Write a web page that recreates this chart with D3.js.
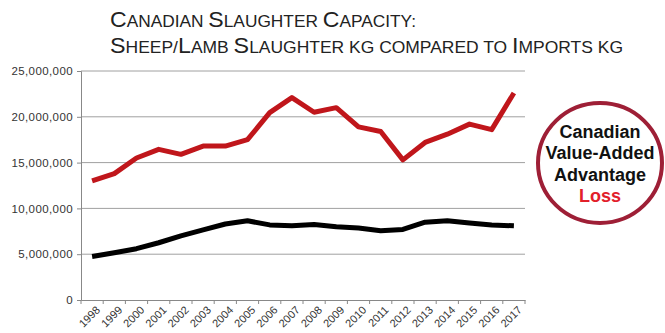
<!DOCTYPE html>
<html lang="en">
<head>
<meta charset="UTF-8">
<title>Canadian Slaughter Capacity</title>
<script src="https://d3js.org/d3.v7.min.js"></script>
<style>
  body { margin: 0; background: #fff; }
  svg { display: block; font-family: Arial, "Liberation Sans", sans-serif; }
  .title { fill: #222; }
  .axis text { font-size: 11.5px; fill: #333; }
  .axis .lab { font-size: 11px; }
  .axis path, .axis line { stroke: #888; }
  .grid line { stroke: #a0a0a0; }
  .badge { font-size: 18px; font-weight: bold; text-anchor: middle; }
</style>
</head>
<body>
<svg width="665" height="333"></svg>
<script>
// years on the x axis
const years = ["1998","1999","2000","2001","2002","2003","2004","2005","2006","2007",
               "2008","2009","2010","2011","2012","2013","2014","2015","2016","2017"];
// imports kg (red)
const imports = [13.0, 13.8, 15.5, 16.45, 15.9, 16.8, 16.8, 17.5, 20.45, 22.1,
                 20.5, 21.0, 18.9, 18.4, 15.3, 17.2, 18.1, 19.2, 18.6, 22.6].map(v => v * 1e6);
// sheep/lamb slaughter kg (black)
const slaughter = [4.75, 5.15, 5.6, 6.25, 7.0, 7.65, 8.3, 8.65, 8.2, 8.1,
                   8.25, 8.0, 7.85, 7.55, 7.7, 8.5, 8.65, 8.4, 8.2, 8.1].map(v => v * 1e6);
const yTicks = [0, 5e6, 10e6, 15e6, 20e6, 25e6];
const titleLines = ["Canadian Slaughter Capacity:", "Sheep/Lamb Slaughter kg compared to Imports kg"];
const badgeLines = ["Canadian", "Value-Added", "Advantage", "Loss"];

const svg = d3.select("svg");
const plot = { left: 81, right: 525, top: 71, bottom: 300 };

const x = d3.scaleBand().domain(years).range([plot.left, plot.right]);
const y = d3.scaleLinear().domain([0, 25e6]).range([plot.bottom, plot.top]);

// title in small caps: capitals big, the rest as smaller capitals
const titleWidths = [306, 513];
titleLines.forEach((str, li) => {
  const t = svg.append("text").attr("class", "title")
    .attr("x", 110).attr("y", 27 + li * 25.5);
  // split into runs of upper / lower case
  const runs = str.match(/[A-Z]+|[^A-Z]+/g);
  runs.forEach(r => {
    const big = /[A-Z]/.test(r[0]);
    t.append("tspan")
      .attr("font-size", big ? 22 : 16.5)
      .text(r.toUpperCase());
  });
  t.attr("textLength", titleWidths[li]).attr("lengthAdjust", "spacingAndGlyphs");
});

// gridlines
svg.append("g").attr("class", "grid")
  .selectAll("line").data(yTicks.slice(1)).join("line")
  .attr("x1", plot.left).attr("x2", plot.right)
  .attr("y1", d => y(d)).attr("y2", d => y(d));

// y axis
svg.append("g").attr("class", "axis")
  .attr("transform", `translate(${plot.left},0)`)
  .call(d3.axisLeft(y).tickValues(yTicks).tickSize(4).tickPadding(4)
    .tickFormat(d3.format(",")))
  .selectAll("text").style("letter-spacing", "0.4px");

// x axis, ticks sit on the band edges
const xg = svg.append("g").attr("class", "axis")
  .attr("transform", `translate(0,${plot.bottom})`)
  .call(d3.axisBottom(x).tickSize(0).tickFormat(""));
xg.selectAll(".edge").data(years.concat(["end"])).join("line")
  .attr("class", "edge")
  .attr("x1", (d, i) => plot.left + i * x.step()).attr("x2", (d, i) => plot.left + i * x.step())
  .attr("y1", 0).attr("y2", 4);
xg.selectAll(".lab").data(years).join("text")
  .attr("class", "lab")
  .attr("text-anchor", "end")
  .attr("transform", d => `translate(${x(d) + x.bandwidth() / 2 + 4},6) rotate(-45)`)
  .attr("dy", "0.6em")
  .text(d => d);

const line = d3.line()
  .x((d, i) => x(years[i]) + x.bandwidth() / 2)
  .y(d => y(d));

svg.append("path").datum(imports)
  .attr("fill", "none").attr("stroke", "#c0161b").attr("stroke-width", 5)
  .attr("stroke-linejoin", "round").attr("d", line);
svg.append("path").datum(slaughter)
  .attr("fill", "none").attr("stroke", "#000").attr("stroke-width", 5)
  .attr("stroke-linejoin", "round").attr("d", line);

// badge
svg.append("ellipse").attr("cx", 600).attr("cy", 163).attr("rx", 62).attr("ry", 60)
  .attr("fill", "#fff").attr("stroke", "#9e1f36").attr("stroke-width", 4);
svg.selectAll(".badge").data(badgeLines).join("text")
  .attr("class", "badge")
  .attr("x", 600).attr("y", (d, i) => 138 + i * 21.3)
  .attr("fill", (d, i) => i === 3 ? "#e2202a" : "#111")
  .text(d => d);
</script>
</body>
</html>
